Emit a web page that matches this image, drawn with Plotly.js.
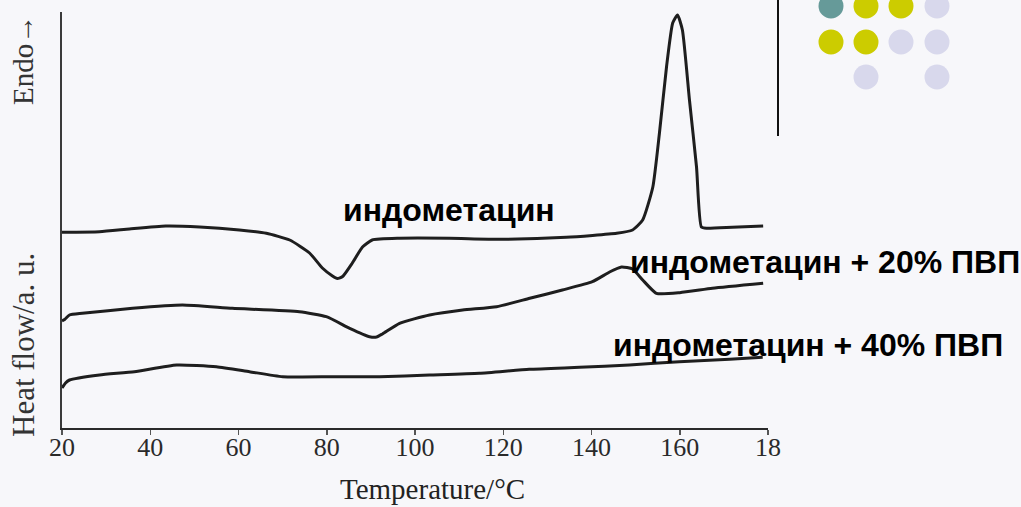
<!DOCTYPE html>
<html>
<head>
<meta charset="utf-8">
<script src="https://cdn.plot.ly/plotly-3.0.1.min.js"></script>
<style>
  html, body { margin: 0; padding: 0; background: #f7f7fa; }
  #chart { width: 1021px; height: 507px; }
</style>
</head>
<body>
<div id="chart"></div>
<script>
// DSC thermograms: temperature (°C) vs heat flow (arbitrary units, endo up)
const tempPure = [20, 28.5, 35.3, 43.5, 51.2, 60.2, 66.3, 71.6, 76.1, 79.0, 81.3, 82.4, 83.6, 85.8, 88.1, 90.3, 96.5, 107.8, 119.2, 134.3, 145.7, 149.3, 151.6, 153.9, 155.4, 157.0, 158.4, 159.5, 160.6, 162.2, 163.8, 164.9, 166.1, 171.9, 178.9];
const flowPure = [19.57, 19.62, 19.9, 20.2, 20.1, 19.8, 19.47, 18.8, 17.5, 16.0, 15.2, 14.95, 15.15, 16.5, 18.1, 18.8, 18.97, 18.97, 18.87, 19.07, 19.47, 19.8, 20.8, 24.1, 29.5, 36.1, 40.5, 41.3, 39.8, 32.8, 26.1, 20.1, 19.97, 20.07, 20.2];

const temp20 = [20, 20.6, 21.7, 24.6, 36.0, 47.3, 58.6, 73.8, 79.9, 85.2, 89.7, 91.3, 92.6, 96.5, 103.3, 110.8, 118.5, 126.0, 133.4, 140.2, 144.1, 146.8, 149.3, 151.6, 154.7, 160.0, 167.4, 178.9];
const flow20 = [10.7, 10.85, 11.3, 11.47, 11.97, 12.3, 11.97, 11.63, 11.13, 9.97, 9.13, 9.1, 9.4, 10.47, 11.3, 11.8, 12.13, 12.97, 13.8, 14.63, 15.6, 16.1, 15.9, 14.8, 13.47, 13.53, 13.97, 14.47];

const temp40 = [20, 20.8, 21.7, 28.5, 36.4, 46.0, 55.0, 62.5, 70.0, 81.3, 92.0, 103.3, 114.6, 125.9, 137.3, 148.6, 159.9, 171.3, 178.8];
const flow40 = [4.0, 4.5, 4.8, 5.3, 5.63, 6.3, 6.13, 5.63, 5.13, 5.13, 5.13, 5.3, 5.47, 5.87, 6.07, 6.3, 6.63, 6.87, 7.07];

const tickValues = [20, 40, 60, 80, 100, 120, 140, 160, 180];
const tickLabels = ['20', '40', '60', '80', '100', '120', '140', '160', '18'];

const curveLabels = ['индометацин', 'индометацин + 20% ПВП', 'индометацин + 40% ПВП'];

// figure geometry (pixels) for the decorative elements outside the plot
const W = 1021, H = 507;
const M = { l: 62, r: 253, t: 12, b: 79 };
const pw = W - M.l - M.r, ph = H - M.t - M.b;
const px = x => (x - M.l) / pw;
const py = y => (H - M.b - y) / ph;

const lineStyle = { color: '#1e1e1e', width: 3, shape: 'spline', smoothing: 0.5 };

const traces = [
  { x: tempPure, y: flowPure, mode: 'lines', line: lineStyle, hoverinfo: 'skip' },
  { x: temp20, y: flow20, mode: 'lines', line: lineStyle, hoverinfo: 'skip' },
  { x: temp40, y: flow40, mode: 'lines', line: lineStyle, hoverinfo: 'skip' }
];

// dot grid in the top-right corner
const dotR = 12.5;
const dots = [
  [831, 6, '#669a99'], [866, 6, '#cccc00'], [901, 6, '#cccc00'], [937, 6, '#d8d8ec'],
  [831, 42, '#cccc00'], [866, 42, '#cccc00'], [901, 42, '#d8d8ec'], [937, 42, '#d8d8ec'],
  [866, 77, '#d8d8ec'], [937, 77, '#d8d8ec']
];
const shapes = dots.map(([cx, cy, c]) => ({
  type: 'circle', xref: 'paper', yref: 'paper',
  x0: px(cx - dotR), x1: px(cx + dotR), y0: py(cy + dotR), y1: py(cy - dotR),
  fillcolor: c, line: { width: 0 }
}));
shapes.push({
  type: 'line', xref: 'paper', yref: 'paper',
  x0: px(778), x1: px(778), y0: py(0), y1: py(136),
  line: { color: '#111', width: 2 }
});

const labelFont = { family: 'Liberation Sans, Arial, sans-serif', size: 32, color: '#000', weight: 'bold' };
const serif = 'Liberation Serif, Times New Roman, serif';
const mid = { showarrow: false, xanchor: 'center', yanchor: 'middle' };

const annotations = [
  { ...mid, x: 107.8, y: 21.8, xref: 'x', yref: 'y', text: '<b>' + curveLabels[0] + '</b>', font: labelFont },
  { ...mid, x: 148.2, y: 16.6, xref: 'x', yref: 'y', text: '<b>' + curveLabels[1] + '</b>', font: labelFont, xanchor: 'left' },
  { ...mid, x: 144.5, y: 8.3, xref: 'x', yref: 'y', text: '<b>' + curveLabels[2] + '</b>', font: labelFont, xanchor: 'left' },
  { ...mid, x: px(23), y: py(60), xref: 'paper', yref: 'paper', text: 'Endo→', textangle: -90, font: { family: serif, size: 29, color: '#333' } },
  { ...mid, x: px(23), y: py(345), xref: 'paper', yref: 'paper', text: 'Heat flow/a. u.', textangle: -90, font: { family: serif, size: 31, color: '#333' } },
  { ...mid, x: px(432), y: py(489), xref: 'paper', yref: 'paper', text: 'Temperature/°C', font: { family: serif, size: 29, color: '#222' } }
];

const layout = {
  width: W, height: H,
  margin: M,
  paper_bgcolor: '#f7f7fa',
  plot_bgcolor: 'rgba(0,0,0,0)',
  showlegend: false,
  xaxis: {
    range: [20, 180], showgrid: false, zeroline: false,
    showline: true, linecolor: '#2a2a2a', linewidth: 2,
    ticks: 'outside', ticklen: 5, tickwidth: 1.5, tickcolor: '#555',
    ticklabelstandoff: -10,
    tickvals: tickValues, ticktext: tickLabels,
    tickfont: { family: serif, size: 26, color: '#2a2a2a' }
  },
  yaxis: {
    range: [0, 41.6], showgrid: false, zeroline: false,
    showline: true, linecolor: '#3a3a3a', linewidth: 2,
    showticklabels: false, ticks: ''
  },
  shapes: shapes,
  annotations: annotations
};

Plotly.newPlot('chart', traces, layout, { staticPlot: true, displayModeBar: false });
</script>
</body>
</html>
